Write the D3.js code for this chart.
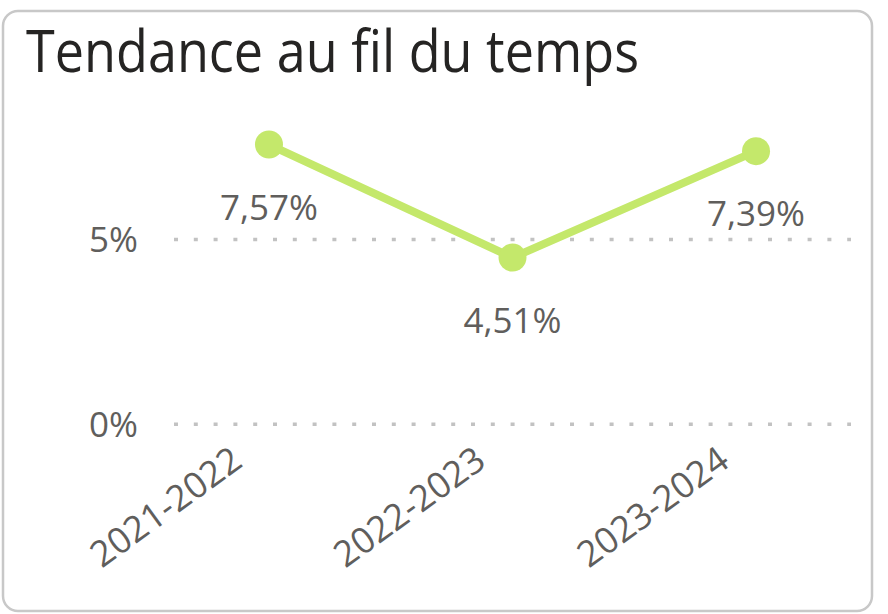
<!DOCTYPE html>
<html>
<head>
<meta charset="utf-8">
<script src="https://cdn.jsdelivr.net/npm/d3@7.9.0/dist/d3.min.js"></script>
<style>
  html, body { margin: 0; padding: 0; background: #fff; }
  svg { display: block; font-family: "Segoe UI", "Open Sans", "Noto Sans", sans-serif; }
</style>
</head>
<body>
<svg id="chart" width="888" height="614"></svg>
<script>
// Data
const title = 'Tendance au fil du temps';
const periods = ['2021-2022', '2022-2023', '2023-2024'];
const rates = [7.57, 4.51, 7.39];
const yTicks = [0, 5];

const svg = d3.select('#chart');

// Card frame
svg.append('rect')
  .attr('x', 3).attr('y', 11)
  .attr('width', 869).attr('height', 600)
  .attr('rx', 15).attr('ry', 15)
  .attr('fill', '#fff')
  .attr('stroke', '#c8c8c8')
  .attr('stroke-width', 2.5);

// Title (squeezed to the width of the original Segoe UI title)
svg.append('text')
  .attr('x', 26).attr('y', 72)
  .attr('fill', '#252423')
  .attr('textLength', 613)
  .attr('lengthAdjust', 'spacingAndGlyphs')
  .style('font-size', '59px')
  .text(title);

const plotLeft = 174, plotRight = 851;
const x = d3.scalePoint()
  .domain(periods)
  .range([plotLeft, plotRight])
  .padding(0.39);

const y = d3.scaleLinear()
  .domain([0, 5])
  .range([424.3, 239.5]);

const fmt = (v) => d3.format('.2f')(v).replace('.', ',') + '%';

// Dotted gridlines
svg.append('g')
  .selectAll('line')
  .data(yTicks)
  .join('line')
  .attr('x1', plotLeft).attr('x2', plotRight)
  .attr('y1', (d) => y(d)).attr('y2', (d) => y(d))
  .attr('stroke', '#c2c2c2')
  .attr('stroke-width', 3.5)
  .attr('stroke-dasharray', '4,15.8');

// Y axis labels
svg.append('g')
  .selectAll('text')
  .data(yTicks)
  .join('text')
  .attr('x', 138)
  .attr('y', (d) => y(d))
  .attr('dy', '0.35em')
  .attr('text-anchor', 'end')
  .attr('fill', '#605e5c')
  .style('font-size', '35px')
  .text((d) => d + '%');

// X axis labels, rotated
svg.append('g')
  .selectAll('text')
  .data(periods)
  .join('text')
  .attr('text-anchor', 'end')
  .attr('transform', (d) => `translate(${x(d) - 32},${455}) rotate(-36)`)
  .attr('dy', '0.35em')
  .attr('fill', '#605e5c')
  .style('font-size', '36px')
  .text((d) => d);

// Line
const data = periods.map((p, i) => ({ period: p, value: rates[i] }));
const line = d3.line()
  .x((d) => x(d.period))
  .y((d) => y(d.value));

svg.append('path')
  .datum(data)
  .attr('d', line)
  .attr('fill', 'none')
  .attr('stroke', '#c4e86b')
  .attr('stroke-width', 8)
  .attr('stroke-linejoin', 'round');

svg.append('g')
  .selectAll('circle')
  .data(data)
  .join('circle')
  .attr('cx', (d) => x(d.period))
  .attr('cy', (d) => y(d.value))
  .attr('r', 14)
  .attr('fill', '#c4e86b');

// Data labels below the points
svg.append('g')
  .selectAll('text')
  .data(data)
  .join('text')
  .attr('x', (d) => x(d.period))
  .attr('y', (d) => y(d.value) + 75)
  .attr('text-anchor', 'middle')
  .attr('fill', '#605e5c')
  .style('font-size', '35px')
  .text((d) => fmt(d.value));
</script>
</body>
</html>
